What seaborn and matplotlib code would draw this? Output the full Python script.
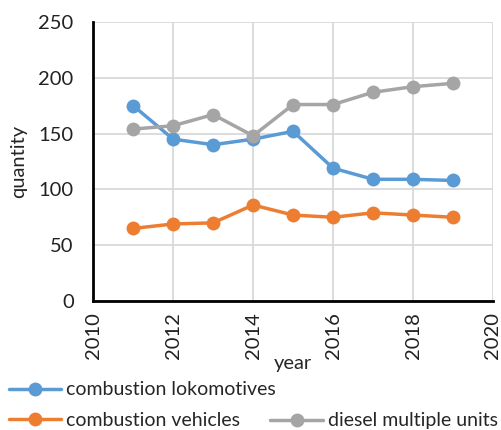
import matplotlib
matplotlib.use("Agg")
import matplotlib.pyplot as plt
import seaborn as sns
import pandas as pd
from matplotlib.lines import Line2D

years = [2011, 2012, 2013, 2014, 2015, 2016, 2017, 2018, 2019]
lokomotives = [175, 145, 140, 145, 152, 119, 109, 109, 108]
vehicles = [65, 69, 70, 86, 77, 75, 79, 77, 75]
dmu = [154, 157, 167, 148, 176, 176, 187, 192, 195]
series_names = ["combustion lokomotives", "combustion vehicles", "diesel multiple units"]
colors = ["#5B9BD5", "#ED7D31", "#A5A5A5"]

df = pd.DataFrame({
    "year": years * 3,
    "quantity": lokomotives + vehicles + dmu,
    "series": [series_names[0]] * len(years) + [series_names[1]] * len(years) + [series_names[2]] * len(years),
})

sns.set_style("white")
plt.rcParams["font.family"] = ["Lato", "DejaVu Sans"]

fig = plt.figure(figsize=(5.01, 4.30), dpi=100)
ax = fig.add_axes([0.186, 0.30, 0.798, 0.649])

palette = dict(zip(series_names, colors))
sns.lineplot(data=df, x="year", y="quantity", hue="series", palette=palette,
             marker="o", markersize=10, linewidth=2.5, markeredgewidth=0,
             legend=False, ax=ax, zorder=3)

ax.set_xlim(2010, 2020)
ax.set_ylim(0, 250)
ax.set_xticks([2010, 2012, 2014, 2016, 2018, 2020])
ax.set_yticks([0, 50, 100, 150, 200, 250])
ax.grid(True, color="#D9D9D9", linewidth=1.3)
ax.set_axisbelow(True)
for s in ["top", "right"]:
    ax.spines[s].set_visible(False)
for s in ["left", "bottom"]:
    ax.spines[s].set_color("black")
    ax.spines[s].set_linewidth(2)
ax.tick_params(axis="x", labelrotation=90, labelsize=14.5, length=0, pad=8)
ax.tick_params(axis="y", labelsize=14.5, length=0, pad=14)
for lab in ax.get_xticklabels() + ax.get_yticklabels():
    lab.set_color("#222222")
ax.set_xlabel("year", fontsize=14.5, labelpad=-3)
ax.set_ylabel("quantity", fontsize=14.5, labelpad=8)

h = [Line2D([], [], color=c, marker="o", markersize=10, linewidth=2.5, markeredgewidth=0) for c in colors]
leg1 = fig.legend(h[:2], series_names[:2], loc="upper left", bbox_to_anchor=(0.01, 0.122),
                  frameon=False, fontsize=14, handlelength=2.7, handletextpad=0.25,
                  labelspacing=0.7, borderaxespad=0, borderpad=0.2)
leg2 = fig.legend(h[2:], series_names[2:], loc="upper left", bbox_to_anchor=(0.532, 0.05),
                  frameon=False, fontsize=14, handlelength=2.7, handletextpad=0.25,
                  borderaxespad=0, borderpad=0.2)

fig.savefig("out.png", dpi=100)
